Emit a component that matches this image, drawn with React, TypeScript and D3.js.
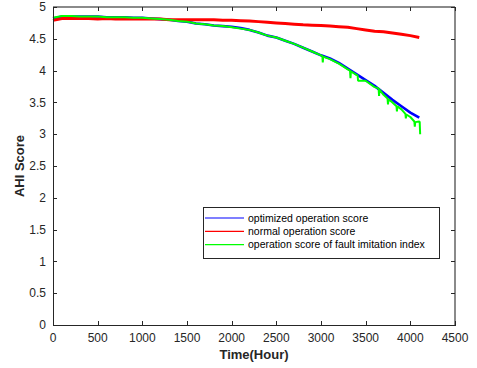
import React from "react";
import * as d3 from "d3";

const timeHours = [0,100,200,300,400,500,600,700,800,900,1000,1100,1200,1300,1400,1500,1600,1700,1800,1900,2000,2100,2200,2300,2400,2500,2600,2700,2800,2900,3000,3100,3200,3300,3400,3500,3600,3700,3800,3900,4000,4100];
const optimizedScore = [4.82,4.85,4.85,4.85,4.85,4.85,4.84,4.84,4.84,4.83,4.83,4.82,4.81,4.80,4.78,4.77,4.74,4.73,4.71,4.70,4.69,4.67,4.64,4.60,4.55,4.52,4.47,4.42,4.36,4.30,4.24,4.19,4.12,4.03,3.94,3.85,3.76,3.65,3.54,3.44,3.34,3.26];
const normalScore = [4.79,4.82,4.82,4.82,4.82,4.81,4.82,4.81,4.81,4.81,4.81,4.81,4.81,4.80,4.80,4.80,4.80,4.80,4.80,4.79,4.79,4.785,4.78,4.77,4.76,4.75,4.74,4.73,4.72,4.715,4.71,4.70,4.69,4.68,4.66,4.64,4.62,4.61,4.59,4.57,4.55,4.52];
const faultTimeHours = [0,100,200,300,400,500,600,700,800,900,1000,1100,1200,1300,1400,1500,1600,1700,1800,1900,2000,2100,2200,2300,2400,2500,2600,2700,2800,2900,3000,3015,3020,3025,3100,3200,3300,3325,3330,3335,3400,3410,3415,3500,3600,3645,3650,3655,3700,3745,3750,3755,3800,3845,3850,3855,3900,3945,3950,3955,4000,4045,4050,4055,4100,4105,4110];
const faultScore = [4.83,4.86,4.86,4.85,4.85,4.85,4.84,4.84,4.84,4.83,4.83,4.82,4.81,4.80,4.78,4.77,4.74,4.73,4.71,4.70,4.68,4.66,4.64,4.60,4.55,4.52,4.47,4.42,4.36,4.30,4.24,4.23,4.13,4.22,4.18,4.11,4.02,4.00,3.88,3.99,3.93,3.92,3.84,3.84,3.74,3.72,3.60,3.70,3.62,3.56,3.47,3.55,3.50,3.44,3.36,3.44,3.39,3.32,3.25,3.31,3.27,3.20,3.12,3.19,3.20,3.19,3.00];

const xTicks = [0,500,1000,1500,2000,2500,3000,3500,4000,4500];
const yTicks = [0,0.5,1,1.5,2,2.5,3,3.5,4,4.5,5];
const legendLabels = ["optimized operation score","normal operation score","operation score of fault imitation index"];
const seriesColors = ["#0000ff","#ff0000","#00ff00"];

export default function App() {
  const W = 477, H = 368;
  const L = 53, R = 455, T = 7, B = 325;
  const x = d3.scaleLinear().domain([0, 4500]).range([L, R]);
  const y = d3.scaleLinear().domain([0, 5]).range([B, T]);
  const line = d3.line<[number, number]>().x(d => x(d[0])).y(d => y(d[1]));
  const blue = line(timeHours.map((t, i) => [t, optimizedScore[i]]))!;
  const red = line(timeHours.map((t, i) => [t, normalScore[i]]))!;
  const green = line(faultTimeHours.map((t, i) => [t, faultScore[i]]))!;
  const font = "Arial, 'Liberation Sans', Helvetica, sans-serif";
  const legX = 203, legY = 207, legW = 236, legH = 51;
  return (
    <svg width={W} height={H} style={{ position: "absolute", left: 0, top: 0, background: "#fff" }} fontFamily={font}>
      <rect x={0} y={0} width={W} height={H} fill="#fff" />
      <rect x={L} y={T} width={R - L} height={B - T} fill="#fff" />
      <path d={blue} fill="none" stroke={seriesColors[0]} strokeWidth={2.6} strokeLinejoin="round" />
      <path d={red} fill="none" stroke={seriesColors[1]} strokeWidth={3} strokeLinejoin="round" />
      <path d={green} fill="none" stroke={seriesColors[2]} strokeWidth={2} strokeLinejoin="bevel" />
      <line x1={L} x2={R} y1={T} y2={T} stroke="#8a8a8a" strokeWidth={2} />
      <line x1={R} x2={R} y1={T} y2={B} stroke="#8a8a8a" strokeWidth={2} />
      <line x1={L} x2={R + 1} y1={B + 0.5} y2={B + 0.5} stroke="#262626" strokeWidth={1} />
      <line x1={L + 0.5} x2={L + 0.5} y1={T} y2={B} stroke="#262626" strokeWidth={1} />
      {xTicks.map(t => (
        <g key={"x" + t}>
          <line x1={Math.round(x(t)) + 0.5} x2={Math.round(x(t)) + 0.5} y1={B} y2={B - 4} stroke="#262626" />
          <line x1={Math.round(x(t)) + 0.5} x2={Math.round(x(t)) + 0.5} y1={T} y2={T + 4} stroke="#262626" />
          <text x={x(t)} y={342} fontSize={12} textAnchor="middle" fill="#262626">{t}</text>
        </g>
      ))}
      {yTicks.map(t => (
        <g key={"y" + t}>
          <line x1={L} x2={L + 4} y1={Math.round(y(t)) + 0.5} y2={Math.round(y(t)) + 0.5} stroke="#262626" />
          <line x1={R} x2={R - 4} y1={Math.round(y(t)) + 0.5} y2={Math.round(y(t)) + 0.5} stroke="#262626" />
          <text x={46} y={y(t)} dy="0.35em" fontSize={12} textAnchor="end" fill="#262626">{t}</text>
        </g>
      ))}
      <text x={(L + R) / 2} y={358.5} fontSize={13} fontWeight="bold" textAnchor="middle" fill="#262626">Time(Hour)</text>
      <text transform={`translate(24, ${(T + B) / 2}) rotate(-90)`} fontSize={13} fontWeight="bold" textAnchor="middle" fill="#262626">AHI Score</text>
      <rect x={legX + 0.5} y={legY + 0.5} width={legW} height={legH} fill="#fff" stroke="#262626" strokeWidth={1} />
      {legendLabels.map((lab, i) => {
        const ly = 218 + i * 13.3;
        return (
          <g key={lab}>
            <line x1={205} x2={244} y1={ly} y2={ly} stroke={seriesColors[i]} strokeWidth={1.2} />
            <text x={248} y={ly} dy="0.35em" fontSize={10.5} fill="#000">{lab}</text>
          </g>
        );
      })}
    </svg>
  );
}
